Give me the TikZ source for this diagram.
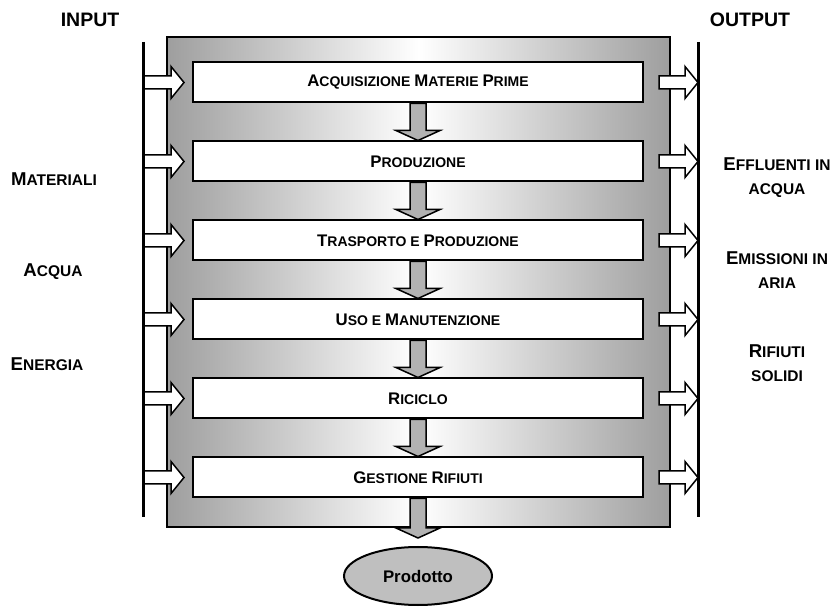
\documentclass[tikz,border=0pt]{standalone}
\usepackage{fontspec}
\setmainfont{Liberation Sans}
\usepackage{graphicx}
\usetikzlibrary{calc,shapes.geometric}

\newcommand\capl[1]{\scalebox{1.2}{#1}}

\tikzset{
  stage/.style={draw, line width=2pt, fill=white, minimum width=450pt, minimum height=40pt,
    font=\fontsize{14}{16}\selectfont\bfseries},
  lbl/.style={align=center, font=\fontsize{15.5}{24}\selectfont\bfseries},
  heading/.style={font=\fontsize{19.5}{22}\selectfont\bfseries},
  rarrow/.style={draw, line width=1.5pt, fill=white, to path={
    let \p1=(\tikztostart), \p2=(\tikztotarget) in
    (\x1,\y1+6.5pt) -- (\x2-13pt,\y1+6.5pt) -- (\x2-13pt,\y1+16pt) -- (\x2,\y1)
    -- (\x2-13pt,\y1-16pt) -- (\x2-13pt,\y1-6.5pt) -- (\x1,\y1-6.5pt) -- cycle}},
  darrow/.style={draw, line width=1.5pt, fill=black!30, to path={
    let \p1=(\tikztostart), \p2=(\tikztotarget) in
    (\x1-8pt,\y1) -- (\x1-8pt,\y2+10pt) -- (\x1-22pt,\y2+10pt) -- (\x1,\y2)
    -- (\x1+22pt,\y2+10pt) -- (\x1+8pt,\y2+10pt) -- (\x1+8pt,\y1) -- cycle}},
}

\begin{document}
\begin{tikzpicture}[x=1pt, y=-1pt]
  \useasboundingbox (0,0) rectangle (836,609);

  % frame of the life cycle
  \shade[left color=black!38, right color=black!38, middle color=white] (167,37) rectangle (670,527);
  \draw[line width=2pt] (167,37) rectangle (670,527);

  % stages
  \foreach \i/\txt in {1/{\capl{A}CQUISIZIONE \capl{M}ATERIE \capl{P}RIME},
                       2/{\capl{P}RODUZIONE},
                       3/{\capl{T}RASPORTO E \capl{P}RODUZIONE},
                       4/{\capl{U}SO E \capl{M}ANUTENZIONE},
                       5/{\capl{R}ICICLO},
                       6/{\capl{G}ESTIONE \capl{R}IFIUTI}}
    \node[stage] (b\i) at (418,{82.5+79*(\i-1)}) {\txt};

  \node[ellipse, draw, line width=2pt, fill=black!25, minimum width=148pt, minimum height=58pt,
    font=\fontsize{16.8}{18}\selectfont\bfseries] (prod) at (418,576) {Prodotto};

  % input / output arrows
  \foreach \i in {1,...,6} {
    \coordinate (in\i) at (143,{82.5+79*(\i-1)});
    \coordinate (out\i) at (698,{82.5+79*(\i-1)});
    \draw[rarrow] (in\i) to ([xshift=-8pt]b\i.west);
    \draw[rarrow] ([xshift=15pt]b\i.east) to (out\i);
  }

  % flow between stages
  \foreach \i [evaluate=\i as \j using int(\i+1)] in {1,...,5}
    \draw[darrow] (b\i.south) to (b\j.north);
  \draw[darrow] (b6.south) to ([yshift=8pt]prod.north);

  % boundary lines
  \draw[line width=3pt] (143,42) -- (143,517);
  \draw[line width=3pt] (698,42) -- (698,517);

  % labels
  \node[heading] (input) at (90,20) {INPUT};
  \node[heading] (output) at (750,20) {OUTPUT};

  \node[lbl] (mat) at (54,179) {\capl{M}ATERIALI};
  \node[lbl] (acq) at (53,272) {\capl{A}CQUA};
  \node[lbl] (ene) at (47,364) {\capl{E}NERGIA};

  \node[lbl] (eff) at (777,177.5) {\capl{E}FFLUENTI IN\\ACQUA};
  \node[lbl] (emi) at (777,270.5) {\capl{E}MISSIONI IN\\ARIA};
  \node[lbl] (rif) at (777,363.5) {\capl{R}IFIUTI\\SOLIDI};
\end{tikzpicture}
\end{document}
